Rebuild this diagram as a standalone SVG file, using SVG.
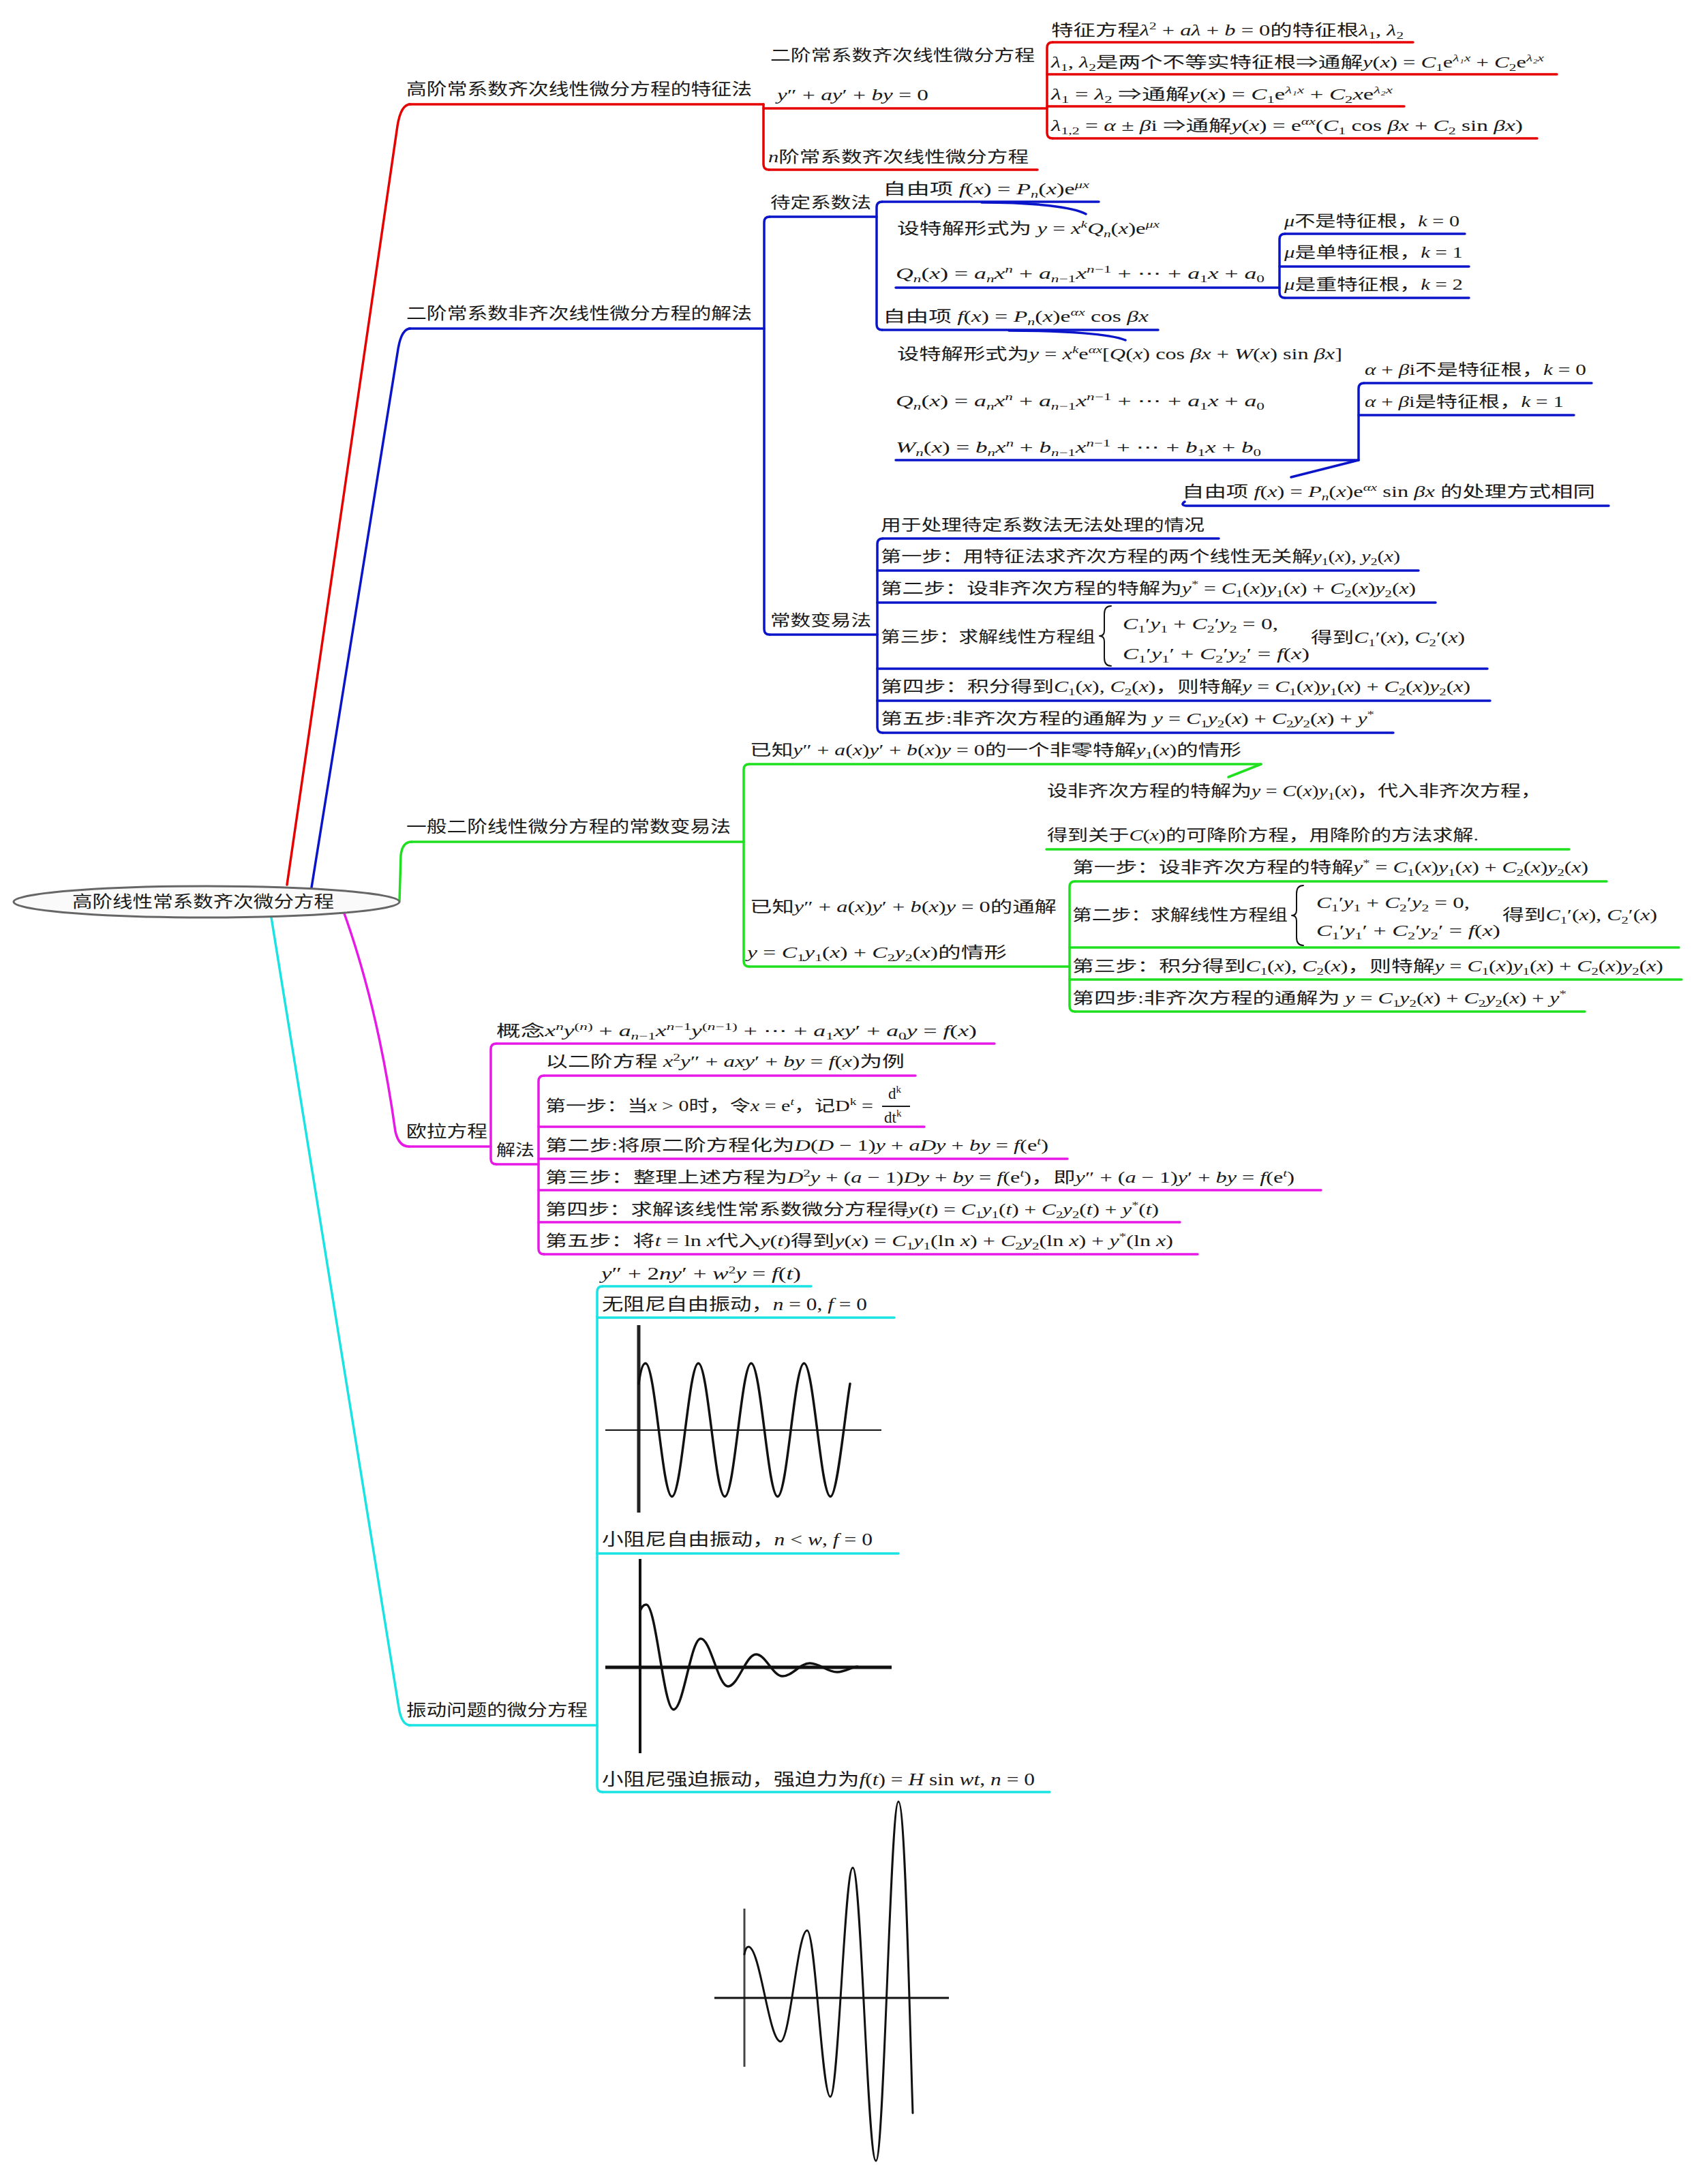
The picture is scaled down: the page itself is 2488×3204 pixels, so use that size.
<svg xmlns="http://www.w3.org/2000/svg" width="2488" height="3204" viewBox="0 0 2488 3204">
<style>
.t{font-family:"Liberation Serif","Noto Sans CJK SC",serif;font-size:23px;fill:#1a1a1a}
.L{font-size:24px}
.v{font-size:25px}
.m{font-style:italic}
.dt{font-family:"DejaVu Sans",sans-serif;font-style:normal}
.u{font-size:15px;baseline-shift:9px}
.d{font-size:15px;baseline-shift:-5px}
.ln{fill:none;stroke-width:3.5;stroke-linecap:round;stroke-linejoin:round}
.R{stroke:#e60000}.B{stroke:#0a14c8}.G{stroke:#1fe01f}.M{stroke:#e619e6}.C{stroke:#19e3e3}
.k{fill:none;stroke:#111;stroke-linecap:round;stroke-linejoin:round}
</style>
<rect width="2488" height="3204" fill="#ffffff"/>

<g id="connectors">
<path class="ln R" d="M 421 1298 L 583 185 Q 588 153 602 153"/>
<path class="ln B" d="M 457 1302 L 584 512 Q 589 482 602 482"/>
<path class="ln G" d="M 586 1322 L 588 1255 Q 590 1235 604 1235"/>
<path class="ln M" d="M 505 1340 Q 555 1480 580 1660 Q 585 1682 600 1682"/>
<path class="ln C" d="M 398 1346 L 585 2505 Q 589 2531 602 2531"/>
<path class="ln R" d="M 1120 153 V 241 Q 1120 249 1128 249"/>
<path class="ln R" d="M 1544 62 Q 1536 62 1536 70 V 195 Q 1536 203 1544 203"/>
<path class="ln B" d="M 1129 318 Q 1121 318 1121 326 V 923 Q 1121 931 1129 931"/>
<path class="ln B" d="M 1294 296 Q 1286 296 1286 304 V 476 Q 1286 484 1294 484"/>
<path class="ln B" d="M 1885 343 Q 1877 343 1877 351 V 429 Q 1877 437 1885 437"/>
<path class="ln B" d="M 2001 562 Q 1993 562 1993 570 V 675"/>
<path class="ln B" d="M 1295 790 Q 1287 790 1287 798 V 1067 Q 1287 1075 1295 1075"/>
<path class="ln B" d="M 1440 297 C 1520 297 1575 304 1593 314"/>
<path class="ln B" d="M 1480 485 C 1560 485 1630 490 1651 499"/>
<path class="ln B" d="M 1993 675 L 1894 700"/>
<path class="ln G" d="M 1099 1121 Q 1091 1121 1091 1129 V 1410 Q 1091 1418 1099 1418"/>
<path class="ln G" d="M 1850 1121 L 1802 1140"/>
<path class="ln G" d="M 1577 1293 Q 1569 1293 1569 1301 V 1476 Q 1569 1484 1577 1484"/>
<path class="ln M" d="M 728 1531 Q 720 1531 720 1539 V 1700 Q 720 1708 728 1708"/>
<path class="ln M" d="M 798 1578 Q 790 1578 790 1586 V 1832 Q 790 1840 798 1840"/>
<path class="ln C" d="M 884 1887 Q 876 1887 876 1895 V 2621 Q 876 2629 884 2629"/>
</g>

<g id="root">
<ellipse cx="303" cy="1323" rx="283" ry="23" fill="#fafafa" stroke="#666" stroke-width="3"/>
<text class="t L" x="106" y="1331" textLength="384" lengthAdjust="spacingAndGlyphs">高阶线性常系数齐次微分方程</text>
</g>

<g id="n-red-main">
<line class="ln R" x1="600" y1="153" x2="1120" y2="153"/>
<text class="t L" x="596" y="139" textLength="507" lengthAdjust="spacingAndGlyphs">高阶常系数齐次线性微分方程的特征法</text>
</g>
<g id="n-red-2nd">
<line class="ln R" x1="1120" y1="159" x2="1536" y2="159"/>
<text class="t" x="1130" y="89" textLength="388" lengthAdjust="spacingAndGlyphs">二阶常系数齐次线性微分方程</text>
<text class="t" x="1140" y="147" textLength="222" lengthAdjust="spacingAndGlyphs"><tspan class="m">y</tspan>″ + <tspan class="m">ay</tspan>′ + <tspan class="m">by</tspan> = 0</text>
</g>
<g id="n-red-a">
<line class="ln R" x1="1544" y1="62" x2="2073" y2="62"/>
<text class="t" x="1542" y="52" textLength="517" lengthAdjust="spacingAndGlyphs">特征方程<tspan class="m">λ</tspan><tspan class="u">2</tspan> + <tspan class="m">aλ</tspan> + <tspan class="m">b</tspan> = 0的特征根<tspan class="m">λ</tspan><tspan class="d">1</tspan>, <tspan class="m">λ</tspan><tspan class="d">2</tspan></text>
</g>
<g id="n-red-b">
<line class="ln R" x1="1536" y1="109" x2="2284" y2="109"/>
<text class="t" x="1542" y="99" textLength="723" lengthAdjust="spacingAndGlyphs"><tspan class="m">λ</tspan><tspan class="d">1</tspan>, <tspan class="m">λ</tspan><tspan class="d">2</tspan>是两个不等实特征根⇒通解<tspan class="m">y</tspan>(<tspan class="m">x</tspan>) = <tspan class="m">C</tspan><tspan class="d">1</tspan>e<tspan class="u m">λ₁x</tspan> + <tspan class="m">C</tspan><tspan class="d">2</tspan>e<tspan class="u m">λ₂x</tspan></text>
</g>
<g id="n-red-c">
<line class="ln R" x1="1536" y1="156" x2="2060" y2="156"/>
<text class="t" x="1542" y="146" textLength="501" lengthAdjust="spacingAndGlyphs"><tspan class="m">λ</tspan><tspan class="d">1</tspan> = <tspan class="m">λ</tspan><tspan class="d">2</tspan> ⇒通解<tspan class="m">y</tspan>(<tspan class="m">x</tspan>) = <tspan class="m">C</tspan><tspan class="d">1</tspan>e<tspan class="u m">λ₁x</tspan> + <tspan class="m">C</tspan><tspan class="d">2</tspan><tspan class="m">x</tspan>e<tspan class="u m">λ₂x</tspan></text>
</g>
<g id="n-red-d">
<line class="ln R" x1="1544" y1="203" x2="2255" y2="203"/>
<text class="t" x="1542" y="192" textLength="692" lengthAdjust="spacingAndGlyphs"><tspan class="m">λ</tspan><tspan class="d">1,2</tspan> = <tspan class="m">α</tspan> ± <tspan class="m">β</tspan>i ⇒通解<tspan class="m">y</tspan>(<tspan class="m">x</tspan>) = e<tspan class="u m">αx</tspan>(<tspan class="m">C</tspan><tspan class="d">1</tspan> cos <tspan class="m">βx</tspan> + <tspan class="m">C</tspan><tspan class="d">2</tspan> sin <tspan class="m">βx</tspan>)</text>
</g>
<g id="n-red-n">
<line class="ln R" x1="1128" y1="249" x2="1522" y2="249"/>
<text class="t" x="1127" y="238" textLength="382" lengthAdjust="spacingAndGlyphs"><tspan class="m">n</tspan>阶常系数齐次线性微分方程</text>
</g>

<g id="n-blue-main">
<line class="ln B" x1="600" y1="482" x2="1121" y2="482"/>
<text class="t L" x="596" y="468" textLength="507" lengthAdjust="spacingAndGlyphs">二阶常系数非齐次线性微分方程的解法</text>
</g>
<g id="n-blue-dd">
<line class="ln B" x1="1129" y1="318" x2="1286" y2="318"/>
<text class="t" x="1130" y="305" textLength="148" lengthAdjust="spacingAndGlyphs">待定系数法</text>
</g>
<g id="n-blue-f1">
<line class="ln B" x1="1294" y1="296" x2="1612" y2="296"/>
<text class="t" x="1295" y="285" textLength="303" lengthAdjust="spacingAndGlyphs">自由项 <tspan class="m">f</tspan>(<tspan class="m">x</tspan>) = <tspan class="m">P</tspan><tspan class="d m">n</tspan>(<tspan class="m">x</tspan>)e<tspan class="u m">μx</tspan></text>
</g>
<g id="n-blue-q1">
<line class="ln B" x1="1314" y1="422" x2="1877" y2="422"/>
<text class="t" x="1316" y="343" textLength="385" lengthAdjust="spacingAndGlyphs">设特解形式为 <tspan class="m">y</tspan> = <tspan class="m">x</tspan><tspan class="u m">k</tspan><tspan class="m">Q</tspan><tspan class="d m">n</tspan>(<tspan class="m">x</tspan>)e<tspan class="u m">μx</tspan></text>
<text class="t" x="1314" y="409" textLength="541" lengthAdjust="spacingAndGlyphs"><tspan class="m">Q</tspan><tspan class="d m">n</tspan>(<tspan class="m">x</tspan>) = <tspan class="m">a</tspan><tspan class="d m">n</tspan><tspan class="m">x</tspan><tspan class="u m">n</tspan> + <tspan class="m">a</tspan><tspan class="d m">n</tspan><tspan class="d">−1</tspan><tspan class="m">x</tspan><tspan class="u m">n</tspan><tspan class="u">−1</tspan> + <tspan class="dt">⋯</tspan> + <tspan class="m">a</tspan><tspan class="d">1</tspan><tspan class="m">x</tspan> + <tspan class="m">a</tspan><tspan class="d">0</tspan></text>
</g>
<g id="n-blue-mu0">
<line class="ln B" x1="1885" y1="343" x2="2149" y2="343"/>
<text class="t" x="1884" y="332" textLength="257" lengthAdjust="spacingAndGlyphs"><tspan class="m">μ</tspan>不是特征根，<tspan class="m">k</tspan> = 0</text>
</g>
<g id="n-blue-mu1">
<line class="ln B" x1="1877" y1="391" x2="2155" y2="391"/>
<text class="t" x="1884" y="378" textLength="262" lengthAdjust="spacingAndGlyphs"><tspan class="m">μ</tspan>是单特征根，<tspan class="m">k</tspan> = 1</text>
</g>
<g id="n-blue-mu2">
<line class="ln B" x1="1885" y1="437" x2="2155" y2="437"/>
<text class="t" x="1884" y="425" textLength="262" lengthAdjust="spacingAndGlyphs"><tspan class="m">μ</tspan>是重特征根，<tspan class="m">k</tspan> = 2</text>
</g>
<g id="n-blue-f2">
<line class="ln B" x1="1294" y1="484" x2="1699" y2="484"/>
<text class="t" x="1295" y="472" textLength="390" lengthAdjust="spacingAndGlyphs">自由项 <tspan class="m">f</tspan>(<tspan class="m">x</tspan>) = <tspan class="m">P</tspan><tspan class="d m">n</tspan>(<tspan class="m">x</tspan>)e<tspan class="u m">αx</tspan> cos <tspan class="m">βx</tspan></text>
</g>
<g id="n-blue-w">
<line class="ln B" x1="1314" y1="675" x2="1993" y2="675"/>
<text class="t" x="1316" y="527" textLength="653" lengthAdjust="spacingAndGlyphs">设特解形式为<tspan class="m">y</tspan> = <tspan class="m">x</tspan><tspan class="u m">k</tspan>e<tspan class="u m">αx</tspan>[<tspan class="m">Q</tspan>(<tspan class="m">x</tspan>) cos <tspan class="m">βx</tspan> + <tspan class="m">W</tspan>(<tspan class="m">x</tspan>) sin <tspan class="m">βx</tspan>]</text>
<text class="t" x="1314" y="596" textLength="541" lengthAdjust="spacingAndGlyphs"><tspan class="m">Q</tspan><tspan class="d m">n</tspan>(<tspan class="m">x</tspan>) = <tspan class="m">a</tspan><tspan class="d m">n</tspan><tspan class="m">x</tspan><tspan class="u m">n</tspan> + <tspan class="m">a</tspan><tspan class="d m">n</tspan><tspan class="d">−1</tspan><tspan class="m">x</tspan><tspan class="u m">n</tspan><tspan class="u">−1</tspan> + <tspan class="dt">⋯</tspan> + <tspan class="m">a</tspan><tspan class="d">1</tspan><tspan class="m">x</tspan> + <tspan class="m">a</tspan><tspan class="d">0</tspan></text>
<text class="t" x="1314" y="664" textLength="536" lengthAdjust="spacingAndGlyphs"><tspan class="m">W</tspan><tspan class="d m">n</tspan>(<tspan class="m">x</tspan>) = <tspan class="m">b</tspan><tspan class="d m">n</tspan><tspan class="m">x</tspan><tspan class="u m">n</tspan> + <tspan class="m">b</tspan><tspan class="d m">n</tspan><tspan class="d">−1</tspan><tspan class="m">x</tspan><tspan class="u m">n</tspan><tspan class="u">−1</tspan> + <tspan class="dt">⋯</tspan> + <tspan class="m">b</tspan><tspan class="d">1</tspan><tspan class="m">x</tspan> + <tspan class="m">b</tspan><tspan class="d">0</tspan></text>
</g>
<g id="n-blue-a0">
<line class="ln B" x1="2001" y1="562" x2="2335" y2="562"/>
<text class="t" x="2002" y="550" textLength="325" lengthAdjust="spacingAndGlyphs"><tspan class="m">α</tspan> + <tspan class="m">β</tspan>i不是特征根，<tspan class="m">k</tspan> = 0</text>
</g>
<g id="n-blue-a1">
<line class="ln B" x1="1993" y1="609" x2="2309" y2="609"/>
<text class="t" x="2002" y="597" textLength="292" lengthAdjust="spacingAndGlyphs"><tspan class="m">α</tspan> + <tspan class="m">β</tspan>i是特征根，<tspan class="m">k</tspan> = 1</text>
</g>
<g id="n-blue-f3">
<path class="ln B" d="M 1738 736 Q 1731 741 1740 742 L 2360 742"/>
<text class="t" x="1734" y="729" textLength="606" lengthAdjust="spacingAndGlyphs">自由项 <tspan class="m">f</tspan>(<tspan class="m">x</tspan>) = <tspan class="m">P</tspan><tspan class="d m">n</tspan>(<tspan class="m">x</tspan>)e<tspan class="u m">αx</tspan> sin <tspan class="m">βx</tspan> 的处理方式相同</text>
</g>
<g id="n-blue-cb">
<line class="ln B" x1="1129" y1="931" x2="1287" y2="931"/>
<text class="t" x="1130" y="918" textLength="148" lengthAdjust="spacingAndGlyphs">常数变易法</text>
</g>
<g id="n-blue-s0">
<line class="ln B" x1="1295" y1="790" x2="1788" y2="790"/>
<text class="t" x="1292" y="778" textLength="475" lengthAdjust="spacingAndGlyphs">用于处理待定系数法无法处理的情况</text>
</g>
<g id="n-blue-s1">
<line class="ln B" x1="1287" y1="837" x2="2081" y2="837"/>
<text class="t" x="1292" y="824" textLength="762" lengthAdjust="spacingAndGlyphs">第一步：用特征法求齐次方程的两个线性无关解<tspan class="m">y</tspan><tspan class="d">1</tspan>(<tspan class="m">x</tspan>), <tspan class="m">y</tspan><tspan class="d">2</tspan>(<tspan class="m">x</tspan>)</text>
</g>
<g id="n-blue-s2">
<line class="ln B" x1="1287" y1="884" x2="2106" y2="884"/>
<text class="t" x="1292" y="871" textLength="785" lengthAdjust="spacingAndGlyphs">第二步：设非齐次方程的特解为<tspan class="m">y</tspan><tspan class="u">*</tspan> = <tspan class="m">C</tspan><tspan class="d">1</tspan>(<tspan class="m">x</tspan>)<tspan class="m">y</tspan><tspan class="d">1</tspan>(<tspan class="m">x</tspan>) + <tspan class="m">C</tspan><tspan class="d">2</tspan>(<tspan class="m">x</tspan>)<tspan class="m">y</tspan><tspan class="d">2</tspan>(<tspan class="m">x</tspan>)</text>
</g>
<g id="n-blue-s3">
<line class="ln B" x1="1287" y1="981" x2="2182" y2="981"/>
<text class="t" x="1292" y="942" textLength="315" lengthAdjust="spacingAndGlyphs">第三步：求解线性方程组</text>
<path class="k" stroke-width="2" d="M 1630 889 Q 1620 889 1620 901 V 925 Q 1620 933 1613 933 Q 1620 933 1620 941 V 965 Q 1620 977 1630 977"/>
<text class="t" x="1647" y="923" textLength="228" lengthAdjust="spacingAndGlyphs"><tspan class="m">C</tspan><tspan class="d">1</tspan>′<tspan class="m">y</tspan><tspan class="d">1</tspan> + <tspan class="m">C</tspan><tspan class="d">2</tspan>′<tspan class="m">y</tspan><tspan class="d">2</tspan> = 0,</text>
<text class="t" x="1647" y="967" textLength="274" lengthAdjust="spacingAndGlyphs"><tspan class="m">C</tspan><tspan class="d">1</tspan>′<tspan class="m">y</tspan><tspan class="d">1</tspan>′ + <tspan class="m">C</tspan><tspan class="d">2</tspan>′<tspan class="m">y</tspan><tspan class="d">2</tspan>′ = <tspan class="m">f</tspan>(<tspan class="m">x</tspan>)</text>
<text class="t" x="1923" y="943" textLength="226" lengthAdjust="spacingAndGlyphs">得到<tspan class="m">C</tspan><tspan class="d">1</tspan>′(<tspan class="m">x</tspan>), <tspan class="m">C</tspan><tspan class="d">2</tspan>′(<tspan class="m">x</tspan>)</text>
</g>
<g id="n-blue-s4">
<line class="ln B" x1="1287" y1="1028" x2="2186" y2="1028"/>
<text class="t" x="1292" y="1015" textLength="865" lengthAdjust="spacingAndGlyphs">第四步：积分得到<tspan class="m">C</tspan><tspan class="d">1</tspan>(<tspan class="m">x</tspan>), <tspan class="m">C</tspan><tspan class="d">2</tspan>(<tspan class="m">x</tspan>)，则特解<tspan class="m">y</tspan> = <tspan class="m">C</tspan><tspan class="d">1</tspan>(<tspan class="m">x</tspan>)<tspan class="m">y</tspan><tspan class="d">1</tspan>(<tspan class="m">x</tspan>) + <tspan class="m">C</tspan><tspan class="d">2</tspan>(<tspan class="m">x</tspan>)<tspan class="m">y</tspan><tspan class="d">2</tspan>(<tspan class="m">x</tspan>)</text>
</g>
<g id="n-blue-s5">
<line class="ln B" x1="1295" y1="1075" x2="2044" y2="1075"/>
<text class="t" x="1292" y="1062" textLength="724" lengthAdjust="spacingAndGlyphs">第五步:非齐次方程的通解为 <tspan class="m">y</tspan> = <tspan class="m">C</tspan><tspan class="d">1</tspan><tspan class="m">y</tspan><tspan class="d">2</tspan>(<tspan class="m">x</tspan>) + <tspan class="m">C</tspan><tspan class="d">2</tspan><tspan class="m">y</tspan><tspan class="d">2</tspan>(<tspan class="m">x</tspan>) + <tspan class="m">y</tspan><tspan class="u">*</tspan></text>
</g>

<g id="n-green-main">
<line class="ln G" x1="604" y1="1235" x2="1091" y2="1235"/>
<text class="t L" x="596" y="1221" textLength="476" lengthAdjust="spacingAndGlyphs">一般二阶线性微分方程的常数变易法</text>
</g>
<g id="n-green-1">
<line class="ln G" x1="1099" y1="1121" x2="1850" y2="1121"/>
<text class="t" x="1100" y="1108" textLength="721" lengthAdjust="spacingAndGlyphs">已知<tspan class="m">y</tspan>″ + <tspan class="m">a</tspan>(<tspan class="m">x</tspan>)<tspan class="m">y</tspan>′ + <tspan class="m">b</tspan>(<tspan class="m">x</tspan>)<tspan class="m">y</tspan> = 0的一个非零特解<tspan class="m">y</tspan><tspan class="d">1</tspan>(<tspan class="m">x</tspan>)的情形</text>
</g>
<g id="n-green-1a">
<line class="ln G" x1="1535" y1="1246" x2="2302" y2="1246"/>
<text class="t" x="1536" y="1168" textLength="725" lengthAdjust="spacingAndGlyphs">设非齐次方程的特解为<tspan class="m">y</tspan> = <tspan class="m">C</tspan>(<tspan class="m">x</tspan>)<tspan class="m">y</tspan><tspan class="d">1</tspan>(<tspan class="m">x</tspan>)，代入非齐次方程，</text>
<text class="t" x="1536" y="1233" textLength="633" lengthAdjust="spacingAndGlyphs">得到关于<tspan class="m">C</tspan>(<tspan class="m">x</tspan>)的可降阶方程，用降阶的方法求解.</text>
</g>
<g id="n-green-2">
<line class="ln G" x1="1099" y1="1418" x2="1569" y2="1418"/>
<text class="t" x="1100" y="1338" textLength="450" lengthAdjust="spacingAndGlyphs">已知<tspan class="m">y</tspan>″ + <tspan class="m">a</tspan>(<tspan class="m">x</tspan>)<tspan class="m">y</tspan>′ + <tspan class="m">b</tspan>(<tspan class="m">x</tspan>)<tspan class="m">y</tspan> = 0的通解</text>
<text class="t" x="1096" y="1405" textLength="381" lengthAdjust="spacingAndGlyphs"><tspan class="m">y</tspan> = <tspan class="m">C</tspan><tspan class="d">1</tspan><tspan class="m">y</tspan><tspan class="d">1</tspan>(<tspan class="m">x</tspan>) + <tspan class="m">C</tspan><tspan class="d">2</tspan><tspan class="m">y</tspan><tspan class="d">2</tspan>(<tspan class="m">x</tspan>)的情形</text>
</g>
<g id="n-green-s1">
<line class="ln G" x1="1577" y1="1293" x2="2357" y2="1293"/>
<text class="t" x="1573" y="1280" textLength="757" lengthAdjust="spacingAndGlyphs">第一步：设非齐次方程的特解<tspan class="m">y</tspan><tspan class="u">*</tspan> = <tspan class="m">C</tspan><tspan class="d">1</tspan>(<tspan class="m">x</tspan>)<tspan class="m">y</tspan><tspan class="d">1</tspan>(<tspan class="m">x</tspan>) + <tspan class="m">C</tspan><tspan class="d">2</tspan>(<tspan class="m">x</tspan>)<tspan class="m">y</tspan><tspan class="d">2</tspan>(<tspan class="m">x</tspan>)</text>
</g>
<g id="n-green-s2">
<line class="ln G" x1="1569" y1="1390" x2="2463" y2="1390"/>
<text class="t" x="1573" y="1350" textLength="316" lengthAdjust="spacingAndGlyphs">第二步：求解线性方程组</text>
<path class="k" stroke-width="2" d="M 1912 1299 Q 1902 1299 1902 1311 V 1335 Q 1902 1343 1895 1343 Q 1902 1343 1902 1351 V 1375 Q 1902 1387 1912 1387"/>
<text class="t" x="1931" y="1332" textLength="225" lengthAdjust="spacingAndGlyphs"><tspan class="m">C</tspan><tspan class="d">1</tspan>′<tspan class="m">y</tspan><tspan class="d">1</tspan> + <tspan class="m">C</tspan><tspan class="d">2</tspan>′<tspan class="m">y</tspan><tspan class="d">2</tspan> = 0,</text>
<text class="t" x="1931" y="1373" textLength="270" lengthAdjust="spacingAndGlyphs"><tspan class="m">C</tspan><tspan class="d">1</tspan>′<tspan class="m">y</tspan><tspan class="d">1</tspan>′ + <tspan class="m">C</tspan><tspan class="d">2</tspan>′<tspan class="m">y</tspan><tspan class="d">2</tspan>′ = <tspan class="m">f</tspan>(<tspan class="m">x</tspan>)</text>
<text class="t" x="2204" y="1350" textLength="227" lengthAdjust="spacingAndGlyphs">得到<tspan class="m">C</tspan><tspan class="d">1</tspan>′(<tspan class="m">x</tspan>), <tspan class="m">C</tspan><tspan class="d">2</tspan>′(<tspan class="m">x</tspan>)</text>
</g>
<g id="n-green-s3">
<line class="ln G" x1="1569" y1="1437" x2="2467" y2="1437"/>
<text class="t" x="1573" y="1425" textLength="867" lengthAdjust="spacingAndGlyphs">第三步：积分得到<tspan class="m">C</tspan><tspan class="d">1</tspan>(<tspan class="m">x</tspan>), <tspan class="m">C</tspan><tspan class="d">2</tspan>(<tspan class="m">x</tspan>)，则特解<tspan class="m">y</tspan> = <tspan class="m">C</tspan><tspan class="d">1</tspan>(<tspan class="m">x</tspan>)<tspan class="m">y</tspan><tspan class="d">1</tspan>(<tspan class="m">x</tspan>) + <tspan class="m">C</tspan><tspan class="d">2</tspan>(<tspan class="m">x</tspan>)<tspan class="m">y</tspan><tspan class="d">2</tspan>(<tspan class="m">x</tspan>)</text>
</g>
<g id="n-green-s4">
<line class="ln G" x1="1577" y1="1484" x2="2325" y2="1484"/>
<text class="t" x="1573" y="1472" textLength="725" lengthAdjust="spacingAndGlyphs">第四步:非齐次方程的通解为 <tspan class="m">y</tspan> = <tspan class="m">C</tspan><tspan class="d">1</tspan><tspan class="m">y</tspan><tspan class="d">2</tspan>(<tspan class="m">x</tspan>) + <tspan class="m">C</tspan><tspan class="d">2</tspan><tspan class="m">y</tspan><tspan class="d">2</tspan>(<tspan class="m">x</tspan>) + <tspan class="m">y</tspan><tspan class="u">*</tspan></text>
</g>

<g id="n-mag-main">
<line class="ln M" x1="600" y1="1682" x2="720" y2="1682"/>
<text class="t L" x="596" y="1668" textLength="119" lengthAdjust="spacingAndGlyphs">欧拉方程</text>
</g>
<g id="n-mag-concept">
<line class="ln M" x1="728" y1="1531" x2="1459" y2="1531"/>
<text class="t" x="728" y="1520" textLength="705" lengthAdjust="spacingAndGlyphs">概念<tspan class="m">x</tspan><tspan class="u m">n</tspan><tspan class="m">y</tspan><tspan class="u">(<tspan class="m">n</tspan>)</tspan> + <tspan class="m">a</tspan><tspan class="d m">n</tspan><tspan class="d">−1</tspan><tspan class="m">x</tspan><tspan class="u m">n</tspan><tspan class="u">−1</tspan><tspan class="m">y</tspan><tspan class="u">(<tspan class="m">n</tspan>−1)</tspan> + <tspan class="dt">⋯</tspan> + <tspan class="m">a</tspan><tspan class="d">1</tspan><tspan class="m">xy</tspan>′ + <tspan class="m">a</tspan><tspan class="d">0</tspan><tspan class="m">y</tspan> = <tspan class="m">f</tspan>(<tspan class="m">x</tspan>)</text>
</g>
<g id="n-mag-sol">
<line class="ln M" x1="728" y1="1708" x2="790" y2="1708"/>
<text class="t" x="728" y="1695" textLength="56" lengthAdjust="spacingAndGlyphs">解法</text>
</g>
<g id="n-mag-e">
<line class="ln M" x1="798" y1="1578" x2="1343" y2="1578"/>
<text class="t" x="800" y="1565" textLength="527" lengthAdjust="spacingAndGlyphs">以二阶方程 <tspan class="m">x</tspan><tspan class="u">2</tspan><tspan class="m">y</tspan>″ + <tspan class="m">axy</tspan>′ + <tspan class="m">by</tspan> = <tspan class="m">f</tspan>(<tspan class="m">x</tspan>)为例</text>
</g>
<g id="n-mag-1">
<line class="ln M" x1="790" y1="1653" x2="1356" y2="1653"/>
<text class="t" x="800" y="1630" textLength="481" lengthAdjust="spacingAndGlyphs">第一步：当<tspan class="m">x</tspan> &gt; 0时，令<tspan class="m">x</tspan> = e<tspan class="u m">t</tspan>，记D<tspan class="u">k</tspan> =</text>
<text class="t" x="1303" y="1612">d<tspan class="u">k</tspan></text>
<line x1="1294" y1="1623" x2="1335" y2="1623" stroke="#1a1a1a" stroke-width="2"/>
<text class="t" x="1297" y="1647">dt<tspan class="u">k</tspan></text>
</g>
<g id="n-mag-2">
<line class="ln M" x1="790" y1="1700" x2="1566" y2="1700"/>
<text class="t" x="800" y="1688" textLength="738" lengthAdjust="spacingAndGlyphs">第二步:将原二阶方程化为<tspan class="m">D</tspan>(<tspan class="m">D</tspan> − 1)<tspan class="m">y</tspan> + <tspan class="m">aDy</tspan> + <tspan class="m">by</tspan> = <tspan class="m">f</tspan>(e<tspan class="u m">t</tspan>)</text>
</g>
<g id="n-mag-3">
<line class="ln M" x1="790" y1="1746" x2="1938" y2="1746"/>
<text class="t" x="800" y="1735" textLength="1099" lengthAdjust="spacingAndGlyphs">第三步：整理上述方程为<tspan class="m">D</tspan><tspan class="u">2</tspan><tspan class="m">y</tspan> + (<tspan class="m">a</tspan> − 1)<tspan class="m">Dy</tspan> + <tspan class="m">by</tspan> = <tspan class="m">f</tspan>(e<tspan class="u m">t</tspan>)，即<tspan class="m">y</tspan>″ + (<tspan class="m">a</tspan> − 1)<tspan class="m">y</tspan>′ + <tspan class="m">by</tspan> = <tspan class="m">f</tspan>(e<tspan class="u m">t</tspan>)</text>
</g>
<g id="n-mag-4">
<line class="ln M" x1="790" y1="1793" x2="1731" y2="1793"/>
<text class="t" x="800" y="1782" textLength="900" lengthAdjust="spacingAndGlyphs">第四步：求解该线性常系数微分方程得<tspan class="m">y</tspan>(<tspan class="m">t</tspan>) = <tspan class="m">C</tspan><tspan class="d">1</tspan><tspan class="m">y</tspan><tspan class="d">1</tspan>(<tspan class="m">t</tspan>) + <tspan class="m">C</tspan><tspan class="d">2</tspan><tspan class="m">y</tspan><tspan class="d">2</tspan>(<tspan class="m">t</tspan>) + <tspan class="m">y</tspan><tspan class="u">*</tspan>(<tspan class="m">t</tspan>)</text>
</g>
<g id="n-mag-5">
<line class="ln M" x1="798" y1="1840" x2="1757" y2="1840"/>
<text class="t" x="800" y="1828" textLength="921" lengthAdjust="spacingAndGlyphs">第五步：将<tspan class="m">t</tspan> = ln <tspan class="m">x</tspan>代入<tspan class="m">y</tspan>(<tspan class="m">t</tspan>)得到<tspan class="m">y</tspan>(<tspan class="m">x</tspan>) = <tspan class="m">C</tspan><tspan class="d">1</tspan><tspan class="m">y</tspan><tspan class="d">1</tspan>(ln <tspan class="m">x</tspan>) + <tspan class="m">C</tspan><tspan class="d">2</tspan><tspan class="m">y</tspan><tspan class="d">2</tspan>(ln <tspan class="m">x</tspan>) + <tspan class="m">y</tspan><tspan class="u">*</tspan>(ln <tspan class="m">x</tspan>)</text>
</g>

<g id="n-cyan-main">
<line class="ln C" x1="600" y1="2531" x2="876" y2="2531"/>
<text class="t L" x="596" y="2517" textLength="266" lengthAdjust="spacingAndGlyphs">振动问题的微分方程</text>
</g>
<g id="n-cyan-eq">
<line class="ln C" x1="884" y1="1887" x2="1190" y2="1887"/>
<text class="t v" x="882" y="1877" textLength="293" lengthAdjust="spacingAndGlyphs"><tspan class="m">y</tspan>″ + 2<tspan class="m">ny</tspan>′ + <tspan class="m">w</tspan><tspan class="u">2</tspan><tspan class="m">y</tspan> = <tspan class="m">f</tspan>(<tspan class="m">t</tspan>)</text>
</g>
<g id="n-cyan-free">
<line class="ln C" x1="876" y1="1933" x2="1312" y2="1933"/>
<text class="t v" x="883" y="1922" textLength="389" lengthAdjust="spacingAndGlyphs">无阻尼自由振动，<tspan class="m">n</tspan> = 0, <tspan class="m">f</tspan> = 0</text>
</g>
<g id="n-cyan-damped">
<line x1="937" y1="1944" x2="937" y2="2219" stroke="#222" stroke-width="5"/>
<line x1="888" y1="2098" x2="1293" y2="2098" stroke="#111" stroke-width="2.2"/>
<path class="k" stroke-width="3.5" d="M 937 2030 Q 941 2000 947 2000 C 961.1 2000 971.6 2195.5 985.75 2195.5 C 999.9 2195.5 1010.4 2000 1024.5 2000 C 1038.6 2000 1049.1 2195.5 1063.25 2195.5 C 1077.4 2195.5 1087.9 2000 1102 2000 C 1116.1 2000 1126.6 2195.5 1140.75 2195.5 C 1154.9 2195.5 1165.4 2000 1179.5 2000 C 1193.6 2000 1204.1 2195.5 1218.25 2195.5 C 1228.5 2195.5 1240 2070 1247 2030"/>
<line class="ln C" x1="876" y1="2279" x2="1318" y2="2279"/>
<text class="t v" x="883" y="2267" textLength="397" lengthAdjust="spacingAndGlyphs">小阻尼自由振动，<tspan class="m">n</tspan> &lt; <tspan class="m">w</tspan>, <tspan class="m">f</tspan> = 0</text>
</g>
<g id="n-cyan-forced">
<line x1="939" y1="2287" x2="939" y2="2572" stroke="#111" stroke-width="4"/>
<line x1="888" y1="2446" x2="1308" y2="2446" stroke="#111" stroke-width="5"/>
<path class="k" stroke-width="3.5" d="M 939 2364 Q 942 2354 948 2354 C 962.6 2354 973.4 2508 988 2508 C 1002.6 2508 1013.4 2404 1028 2404 C 1042.6 2404 1053.4 2474 1068 2474 C 1082.6 2474 1094.4 2427 1109 2427 C 1123.3 2427 1133.7 2459 1148 2459 C 1162.6 2459 1173.4 2440 1188 2440 C 1202.6 2440 1213.4 2453 1228 2453 C 1240 2453 1250 2445 1258 2445"/>
<line class="ln C" x1="884" y1="2629" x2="1540" y2="2629"/>
<text class="t v" x="883" y="2619" textLength="635" lengthAdjust="spacingAndGlyphs">小阻尼强迫振动，强迫力为<tspan class="m">f</tspan>(<tspan class="m">t</tspan>) = <tspan class="m">H</tspan> sin <tspan class="m">wt</tspan>, <tspan class="m">n</tspan> = 0</text>
<line x1="1092" y1="2800" x2="1092" y2="3032" stroke="#444" stroke-width="3"/>
<line x1="1048" y1="2931" x2="1392" y2="2931" stroke="#111" stroke-width="3"/>
<path class="k" stroke-width="3" d="M 1092 2867 Q 1094 2856 1098 2856 C 1115 2856 1128 2995 1145 2995 C 1159 2995 1170 2832 1184 2832 C 1196.4 2832 1205.6 3076 1218 3076 C 1230 3076 1239 2740 1251 2740 C 1263.4 2740 1272.6 3170 1285 3170 C 1297 3170 1306 2643 1318 2643 C 1328 2643 1334 2950 1339 3100"/>
</g>
</svg>
